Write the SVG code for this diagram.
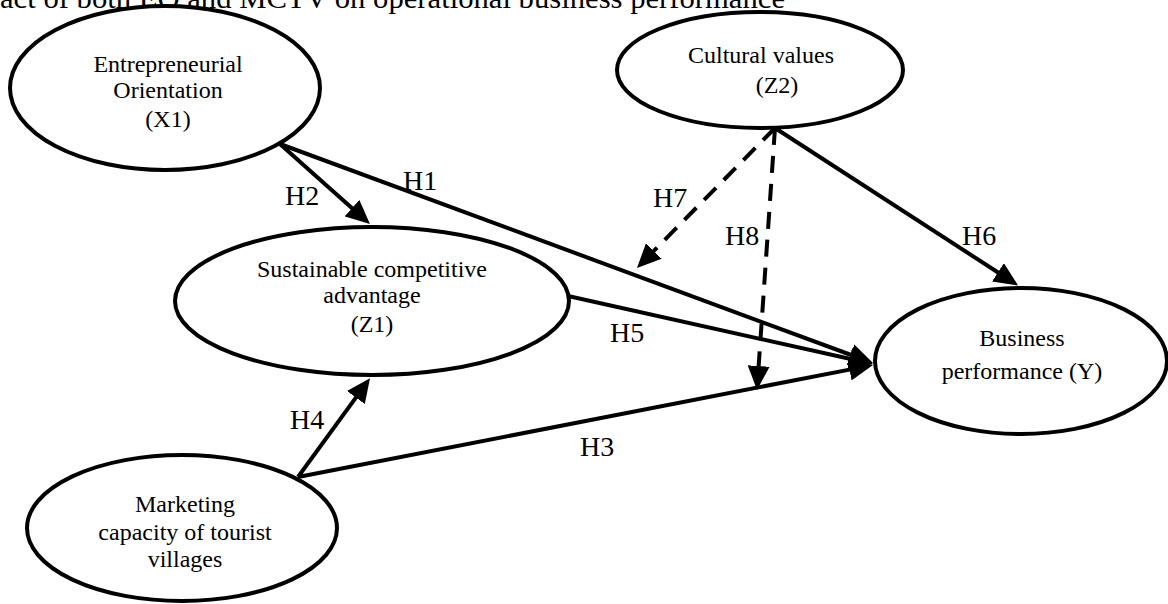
<svg xmlns="http://www.w3.org/2000/svg" width="1168" height="604" viewBox="0 0 1168 604">
<defs>
<style>
.node ellipse{fill:#fff;stroke:#000;stroke-width:4}
.node text{font-family:"Liberation Serif","Times New Roman",serif;font-size:24px;fill:#000;text-anchor:middle}
.lbl{font-family:"Liberation Serif","Times New Roman",serif;font-size:28px;fill:#000}
.title{font-family:"Liberation Serif","Times New Roman",serif;font-size:30px;fill:#000}
.edge{stroke:#000;stroke-width:4;fill:none;marker-end:url(#ah)}
.dash{stroke-dasharray:17 11}
</style>
<marker id="ah" viewBox="0 0 24 22" markerWidth="24" markerHeight="22" refX="8" refY="11" orient="auto" markerUnits="userSpaceOnUse">
<path d="M0,0 L24,11 L0,22 z" fill="#000"/>
</marker>
</defs>
<rect width="1168" height="604" fill="#fff"/>
<text class="title" x="0" y="8" textLength="785" lengthAdjust="spacingAndGlyphs">act of both EO and MCTV on operational business performance</text>

<g id="connectors">
<line class="edge" x1="280" y1="144" x2="858" y2="357.5"/>
<line class="edge" x1="568" y1="296" x2="857.4" y2="360.5"/>
<line class="edge" x1="298" y1="477" x2="857.3" y2="368.1"/>
<line class="edge" x1="280" y1="144" x2="358" y2="213.4"/>
<line class="edge" x1="298" y1="477" x2="360.6" y2="391.1"/>
<line class="edge" x1="775" y1="128" x2="1004.6" y2="276.7"/>
<line class="edge dash" x1="775" y1="128" x2="648.2" y2="256.6"/>
<line class="edge dash" x1="775" y1="128" x2="758.1" y2="374"/>
</g>

<g id="labels">
<text class="lbl" x="403" y="190">H1</text>
<text class="lbl" x="285" y="205">H2</text>
<text class="lbl" x="580" y="456">H3</text>
<text class="lbl" x="290" y="429">H4</text>
<text class="lbl" x="610" y="342">H5</text>
<text class="lbl" x="962" y="245">H6</text>
<text class="lbl" x="653" y="207">H7</text>
<text class="lbl" x="725" y="245">H8</text>
</g>

<g id="node-x1" class="node">
<ellipse cx="165" cy="88" rx="155" ry="82"/>
<text x="168" y="72">Entrepreneurial</text>
<text x="168" y="98">Orientation</text>
<text x="168" y="127">(X1)</text>
</g>
<g id="node-z2" class="node">
<ellipse cx="760" cy="70" rx="143" ry="58"/>
<text x="761" y="63">Cultural values</text>
<text x="777" y="93">(Z2)</text>
</g>
<g id="node-z1" class="node">
<ellipse cx="372" cy="301" rx="197" ry="74"/>
<text x="372" y="277">Sustainable competitive</text>
<text x="372" y="303">advantage</text>
<text x="372" y="332">(Z1)</text>
</g>
<g id="node-y" class="node">
<ellipse cx="1021" cy="361" rx="146" ry="73"/>
<text x="1022" y="346">Business</text>
<text x="1022" y="379">performance (Y)</text>
</g>
<g id="node-x2" class="node">
<ellipse cx="182" cy="528" rx="155" ry="73"/>
<text x="185" y="512">Marketing</text>
<text x="185" y="540">capacity of tourist</text>
<text x="185" y="567">villages</text>
</g>
</svg>
